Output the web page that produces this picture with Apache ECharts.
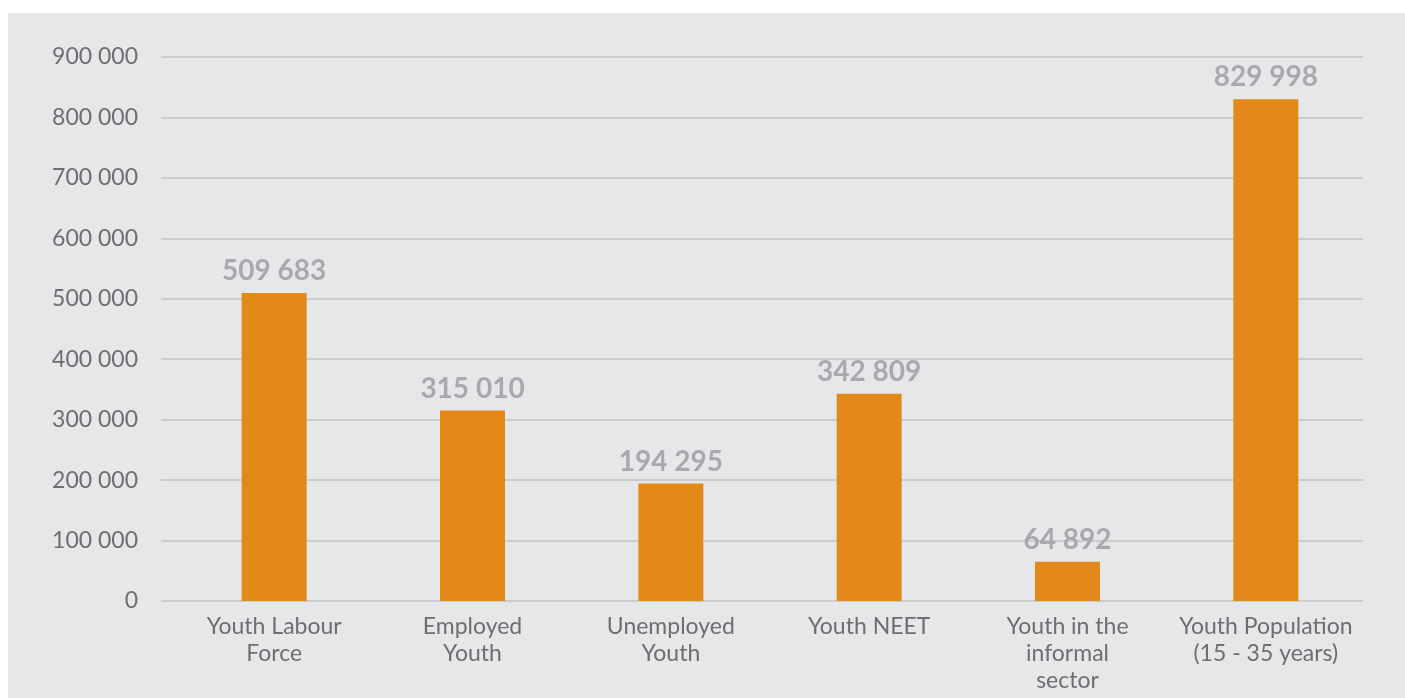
<!DOCTYPE html>
<html>
<head>
<meta charset="utf-8">
<script src="https://cdn.jsdelivr.net/npm/echarts@6/dist/echarts.min.js"></script>
<style>
  html, body { margin: 0; padding: 0; background: #ffffff; width: 1405px; height: 698px; overflow: hidden; }
  #chart { position: absolute; left: 8px; top: 13px; width: 1397px; height: 685px; }
</style>
</head>
<body>
<div id="chart"></div>
<script>
// Youth labour market indicators
const categories = [
  'Youth Labour\nForce',
  'Employed\nYouth',
  'Unemployed\nYouth',
  'Youth NEET',
  'Youth in the\ninformal\nsector',
  'Youth Population\n(15 - 35 years)'
];
const values = [509683, 315010, 194295, 342809, 64892, 829998];
const yTicks = { min: 0, max: 900000, interval: 100000 };

// thousands grouped with a space: 509683 -> "509 683"
function spaced(n) {
  return String(Math.round(n)).replace(/\B(?=(\d{3})+(?!\d))/g, ' ');
}

const FONT = 'Lato, "Open Sans", sans-serif';
const chart = echarts.init(document.getElementById('chart'), null, { renderer: 'canvas' });

chart.setOption({
  backgroundColor: '#e6e7e8',
  animation: false,
  textStyle: { fontFamily: FONT },
  grid: [
    // value scale + gridlines
    { left: 153, right: 42, top: 44, bottom: 97 },
    // bars
    { left: 167, right: 40, top: 44, bottom: 97 }
  ],
  xAxis: [
    { gridIndex: 0, type: 'value', show: false, min: 0, max: 1 },
    {
      gridIndex: 1,
      type: 'category',
      data: categories,
      axisLine: { show: false },
      axisTick: { show: false },
      axisLabel: {
        color: '#6d6e71',
        fontSize: 23,
        lineHeight: 27,
        margin: 12,
        fontFamily: FONT,
        interval: 0
      }
    }
  ],
  yAxis: [
    {
      gridIndex: 0,
      type: 'value',
      min: yTicks.min,
      max: yTicks.max,
      interval: yTicks.interval,
      axisLine: { show: false },
      axisTick: { show: false },
      axisLabel: {
        color: '#6d6e71',
        fontSize: 23,
        margin: 23,
        fontFamily: FONT,
        formatter: v => spaced(v)
      },
      splitLine: { show: true, lineStyle: { color: '#cbcccd', width: 2 } }
    },
    {
      gridIndex: 1,
      type: 'value',
      min: yTicks.min,
      max: yTicks.max,
      interval: yTicks.interval,
      show: false,
      splitLine: { show: false }
    }
  ],
  series: [
    {
      type: 'bar',
      xAxisIndex: 1,
      yAxisIndex: 1,
      data: values,
      barWidth: 65,
      itemStyle: { color: '#e3891a' },
      label: {
        show: true,
        position: 'top',
        distance: 8,
        color: '#a7a9ac',
        fontSize: 28,
        fontWeight: 'bold',
        fontFamily: FONT,
        formatter: p => spaced(p.value)
      }
    }
  ]
});
</script>
</body>
</html>
